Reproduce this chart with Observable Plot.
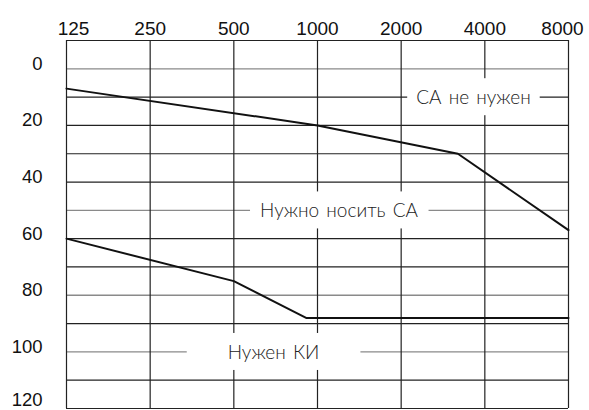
<!DOCTYPE html>
<html>
<head>
<meta charset="utf-8">
<script src="https://cdn.jsdelivr.net/npm/d3@7"></script>
<script src="https://cdn.jsdelivr.net/npm/@observablehq/plot@0.6"></script>
<style>
  html, body { margin: 0; padding: 0; background: #fff; }
  #chart svg { display: block; }
</style>
</head>
<body>
<div id="chart"></div>
<script>
// Frequencies (Hz) on the top axis
const freqTicks = [125, 250, 500, 1000, 2000, 4000, 8000];
// Hearing level (dB) gridlines and labelled ticks
const dbGrid = [-10, 0, 10, 20, 30, 40, 50, 60, 70, 80, 90, 100, 110, 120];
const dbLightGrid = [0, 50, 80, 100];
const dbTicks = [0, 20, 40, 60, 80, 100, 120];

// Upper boundary: "hearing aid not needed" above
const upperFreq = [125, 1000, 3200, 8000];
const upperDb = [7, 20, 30, 57];
// Lower boundary: "cochlear implant needed" below
const lowerFreq = [125, 500, 910, 8000];
const lowerDb = [60, 75, 88, 88];

// Zone labels
const zoneText = ["СА не нужен", "Нужно носить СА", "Нужен КИ"];
const zoneFreq = [3640, 1195, 695];
const zoneDb = [10, 50, 100];

const upper = upperFreq.map((f, i) => ({f, db: upperDb[i]}));
const lower = lowerFreq.map((f, i) => ({f, db: lowerDb[i]}));
const zones = zoneText.map((t, i) => ({t, f: zoneFreq[i], db: zoneDb[i]}));

const edgeFreq = [freqTicks[0]];
const endFreq = [freqTicks[freqTicks.length - 1]];
const midFreq = freqTicks.slice(1, -1);
const dbTicksMain = dbTicks.slice(0, -1);
const dbTicksLast = dbTicks.slice(-1);

const chart = Plot.plot({
  width: 589,
  height: 410,
  marginLeft: 66,
  marginRight: 21,
  marginTop: 40,
  marginBottom: 2,
  style: {fontFamily: "'Liberation Sans', Arial, sans-serif", fontSize: "19px", color: "#111", background: "#fff", overflow: "visible"},
  x: {type: "log", domain: [125, 8000], axis: null, label: null},
  y: {domain: [-10, 120], reverse: true, axis: null, label: null},
  marks: [
    Plot.ruleY(dbGrid.filter(d => !dbLightGrid.includes(d)), {y: d => d, stroke: "#222", strokeWidth: 1.2}),
    Plot.ruleY(dbLightGrid, {y: d => d, stroke: "#8a8a8a", strokeWidth: 1.3}),
    Plot.ruleX(freqTicks, {x: d => d, stroke: "#222", strokeWidth: 1.2}),
    Plot.line(upper, {x: "f", y: "db", stroke: "#111", strokeWidth: 2}),
    Plot.line(lower, {x: "f", y: "db", stroke: "#111", strokeWidth: 2}),
    Plot.axisY(dbTicksMain, {tickSize: 0, tickPadding: 24, fontSize: 18.5, dy: -5, fill: "#111", label: null}),
    Plot.axisY(dbTicksLast, {tickSize: 0, tickPadding: 24, fontSize: 18.5, dy: -8, fill: "#111", label: null}),
    Plot.text(midFreq, {x: d => d, frameAnchor: "top", dy: -19, text: d => String(d), fontSize: 19, fill: "#111"}),
    Plot.text(edgeFreq, {x: d => d, frameAnchor: "top", dy: -19, dx: 7, text: d => String(d), fontSize: 19, fill: "#111"}),
    Plot.text(endFreq, {x: d => d, frameAnchor: "top", dy: -19, dx: -6, text: d => String(d), fontSize: 19, fill: "#111"}),
    Plot.text(zones, {x: "f", y: "db", text: "t", fontSize: 19, fontWeight: 300, fill: "#222",
      fontFamily: "Lato, 'Open Sans', sans-serif", className: "zone-label", dy: 1})
  ]
});

document.getElementById("chart").appendChild(chart);

// White boxes behind zone labels that interrupt the grid
const padX = [9, 10, 41];
const boxH = 37;
const texts = chart.querySelectorAll("g.zone-label text");
texts.forEach((el, i) => {
  el.setAttribute("word-spacing", "2");
  const bb = el.getBBox();
  const cx = bb.x + bb.width / 2;
  const cy = bb.y + bb.height / 2;
  const r = document.createElementNS("http://www.w3.org/2000/svg", "rect");
  const w = bb.width + 2 * (padX[i] ?? 10);
  r.setAttribute("x", cx - w / 2);
  r.setAttribute("y", cy - boxH / 2);
  r.setAttribute("width", w);
  r.setAttribute("height", boxH);
  r.setAttribute("fill", "#fff");
  r.setAttribute("transform", el.getAttribute("transform") || "");
  el.parentNode.insertBefore(r, el.parentNode.firstChild);
});
</script>
</body>
</html>
